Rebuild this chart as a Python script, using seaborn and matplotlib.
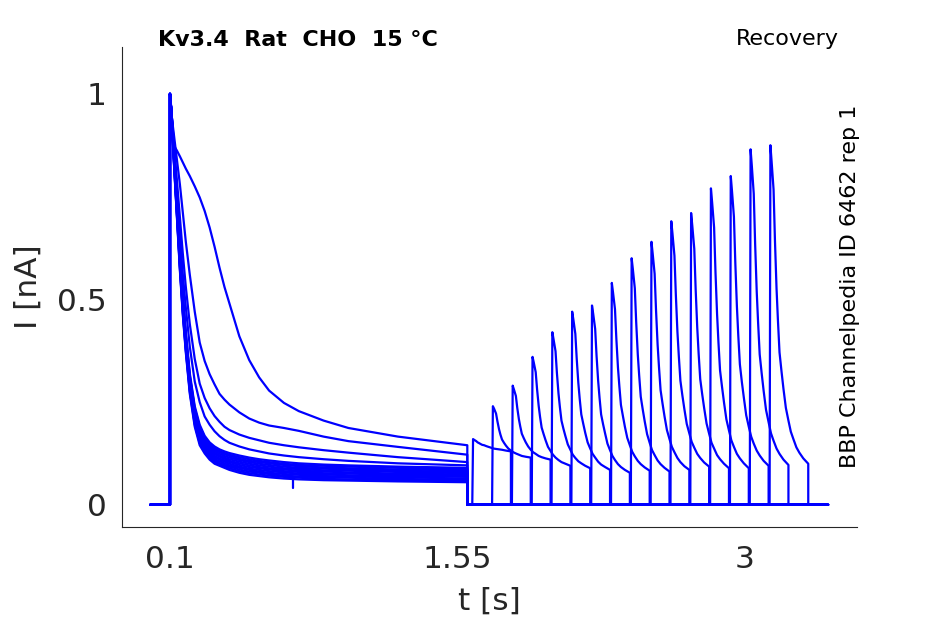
import numpy as np
import pandas as pd
import seaborn as sns
import matplotlib.pyplot as plt

# time grid of the conditioning pulse (s)
t_pulse1 = [0.1, 0.105, 0.11, 0.12, 0.135, 0.15, 0.165, 0.18, 0.2, 0.225, 0.25,
            0.275, 0.3, 0.325, 0.35, 0.375, 0.4, 0.45, 0.5, 0.55, 0.6, 0.675,
            0.75, 0.875, 1.0, 1.25, 1.6]

# current during the conditioning pulse, one row per sweep (nA)
i_pulse1 = [
    [1.0, 0.95, 0.9, 0.874, 0.862, 0.848, 0.833, 0.818, 0.80, 0.775, 0.748, 0.715, 0.675, 0.628,
     0.577, 0.53, 0.49, 0.41, 0.352, 0.31, 0.278, 0.248, 0.228, 0.205, 0.187, 0.166, 0.145],
    [1.0, 0.97, 0.94, 0.90, 0.84, 0.78, 0.71, 0.64, 0.56, 0.47, 0.395, 0.35, 0.318, 0.293,
     0.27, 0.256, 0.244, 0.225, 0.21, 0.2, 0.193, 0.187, 0.18, 0.166, 0.155, 0.141, 0.122],
    [1.0, 0.97, 0.94, 0.88, 0.79, 0.70, 0.61, 0.53, 0.44, 0.355, 0.295, 0.26, 0.235, 0.216,
     0.202, 0.19, 0.182, 0.171, 0.163, 0.157, 0.151, 0.145, 0.14, 0.133, 0.127, 0.116, 0.104],
    [1.0, 0.97, 0.94, 0.87, 0.76, 0.66, 0.56, 0.48, 0.385, 0.30, 0.25, 0.215, 0.195, 0.179,
     0.167, 0.158, 0.151, 0.142, 0.135, 0.13, 0.125, 0.12, 0.116, 0.111, 0.107, 0.101, 0.096],
    [1.0, 0.975, 0.94, 0.86, 0.74, 0.62, 0.51, 0.42, 0.32, 0.24, 0.195, 0.168, 0.152, 0.142,
     0.135, 0.13, 0.126, 0.12, 0.115, 0.111, 0.108, 0.104, 0.101, 0.098, 0.096, 0.093, 0.09],
    [1.0, 0.97, 0.938, 0.857, 0.736, 0.615, 0.505, 0.415, 0.315, 0.235, 0.190, 0.164, 0.148, 0.138,
     0.131, 0.126, 0.122, 0.116, 0.111, 0.107, 0.104, 0.100, 0.097, 0.095, 0.093, 0.090, 0.087],
    [1.0, 0.97, 0.936, 0.855, 0.733, 0.611, 0.501, 0.411, 0.311, 0.231, 0.186, 0.160, 0.144, 0.134,
     0.128, 0.123, 0.119, 0.112, 0.107, 0.104, 0.101, 0.097, 0.094, 0.091, 0.089, 0.086, 0.084],
    [1.0, 0.97, 0.935, 0.852, 0.729, 0.606, 0.496, 0.406, 0.306, 0.226, 0.181, 0.156, 0.141, 0.131,
     0.124, 0.119, 0.115, 0.109, 0.104, 0.100, 0.097, 0.093, 0.090, 0.088, 0.086, 0.083, 0.080],
    [1.0, 0.97, 0.933, 0.849, 0.725, 0.602, 0.492, 0.402, 0.302, 0.222, 0.177, 0.152, 0.137, 0.127,
     0.120, 0.115, 0.111, 0.105, 0.100, 0.096, 0.093, 0.089, 0.087, 0.084, 0.083, 0.080, 0.077],
    [1.0, 0.97, 0.931, 0.846, 0.722, 0.597, 0.487, 0.397, 0.297, 0.217, 0.172, 0.148, 0.133, 0.123,
     0.117, 0.112, 0.107, 0.101, 0.096, 0.092, 0.089, 0.086, 0.083, 0.081, 0.079, 0.076, 0.074],
    [1.0, 0.97, 0.929, 0.844, 0.718, 0.593, 0.483, 0.393, 0.293, 0.213, 0.168, 0.145, 0.129, 0.119,
     0.113, 0.108, 0.104, 0.097, 0.092, 0.089, 0.086, 0.082, 0.080, 0.077, 0.076, 0.073, 0.071],
    [1.0, 0.97, 0.927, 0.841, 0.715, 0.588, 0.478, 0.388, 0.288, 0.208, 0.163, 0.141, 0.125, 0.115,
     0.110, 0.105, 0.100, 0.093, 0.088, 0.085, 0.082, 0.079, 0.076, 0.074, 0.072, 0.070, 0.068],
    [1.0, 0.97, 0.925, 0.838, 0.711, 0.584, 0.474, 0.384, 0.284, 0.204, 0.159, 0.137, 0.121, 0.111,
     0.106, 0.101, 0.096, 0.090, 0.085, 0.081, 0.078, 0.075, 0.073, 0.070, 0.069, 0.067, 0.064],
    [1.0, 0.97, 0.924, 0.835, 0.707, 0.579, 0.469, 0.379, 0.279, 0.199, 0.154, 0.133, 0.118, 0.108,
     0.102, 0.097, 0.093, 0.086, 0.081, 0.078, 0.075, 0.071, 0.069, 0.067, 0.066, 0.063, 0.061],
    [1.0, 0.97, 0.922, 0.833, 0.704, 0.575, 0.465, 0.375, 0.275, 0.195, 0.150, 0.129, 0.114, 0.104,
     0.099, 0.094, 0.089, 0.082, 0.077, 0.074, 0.071, 0.068, 0.066, 0.063, 0.062, 0.060, 0.058],
    [1.0, 0.97, 0.92, 0.83, 0.70, 0.57, 0.46, 0.37, 0.27, 0.19, 0.145, 0.125, 0.11, 0.10,
     0.095, 0.09, 0.085, 0.078, 0.073, 0.07, 0.067, 0.064, 0.062, 0.06, 0.059, 0.057, 0.055],
]

# test pulse onsets (s) and time after onset (s)
t_test_start = [1.625, 1.725, 1.825, 1.925, 2.025, 2.125, 2.225, 2.325,
                2.425, 2.525, 2.625, 2.725, 2.825, 2.925, 3.025, 3.125]
dt_test = [0.0, 0.004, 0.01, 0.02, 0.027, 0.035, 0.042, 0.05, 0.06, 0.07,
           0.082, 0.095, 0.107, 0.12, 0.135, 0.15, 0.17, 0.195]

# current during the test pulse (nA)
i_test = [
    [0.0, .16, .158, .155, .152, .15, .148, .146, .145, .143, .141, .139, .137, .136, .135, .134, .132, .13],
    [0.0, .24, .234, .222, .203, .184, .171, .159, .151, .144, .137, .132, .128, .125, .122, .119, .117, .115],
    [0.0, .29, .281, .265, .236, .209, .191, .173, .162, .152, .142, .134, .128, .124, .119, .116, .113, .11],
    [0.0, .36, .347, .323, .281, .241, .214, .188, .172, .157, .141, .131, .122, .115, .109, .104, .10, .095],
    [0.0, .42, .403, .374, .321, .271, .238, .205, .185, .167, .147, .134, .122, .114, .106, .101, .095, .089],
    [0.0, .47, .451, .416, .355, .297, .258, .220, .197, .175, .152, .137, .124, .115, .105, .098, .092, .085],
    [0.0, .485, .465, .428, .363, .302, .261, .220, .196, .174, .149, .133, .119, .109, .099, .092, .085, .078],
    [0.0, .54, .517, .476, .403, .334, .289, .243, .216, .190, .163, .145, .129, .118, .107, .099, .091, .083],
    [0.0, .60, .574, .527, .444, .366, .315, .263, .232, .203, .172, .151, .133, .121, .108, .099, .090, .081],
    [0.0, .64, .612, .562, .474, .390, .335, .279, .246, .215, .182, .160, .141, .128, .114, .104, .094, .085],
    [0.0, .69, .66, .606, .511, .421, .362, .302, .266, .233, .197, .174, .153, .139, .124, .114, .103, .093],
    [0.0, .71, .679, .623, .524, .431, .368, .306, .269, .235, .198, .173, .151, .137, .121, .111, .100, .089],
    [0.0, .77, .736, .675, .566, .464, .395, .327, .287, .249, .208, .181, .157, .141, .124, .113, .101, .089],
    [0.0, .80, .765, .701, .589, .483, .412, .342, .299, .261, .218, .190, .166, .149, .132, .120, .107, .095],
    [0.0, .865, .827, .757, .635, .519, .443, .366, .320, .277, .231, .201, .174, .156, .137, .124, .110, .097],
    [0.0, .875, .836, .767, .643, .526, .449, .371, .325, .282, .236, .205, .178, .160, .140, .127, .113, .10],
]

t_record_end = 3.42
# small recording artifact in one sweep
t_artifact = [0.722, 0.722]
i_artifact = [0.066, 0.04]

rows = []
for k in range(len(i_pulse1)):
    t0 = t_test_start[k]
    ts = [0.0, t_pulse1[0]] + t_pulse1 + [t_pulse1[-1], t0]
    vs = [0.0, 0.0] + i_pulse1[k] + [0.0, 0.0]
    ts += [t0 + d for d in dt_test] + [t0 + dt_test[-1], t_record_end]
    vs += i_test[k] + [0.0, 0.0]
    rows.append(pd.DataFrame({'t': ts, 'I': vs, 'sweep': k}))
rows.append(pd.DataFrame({'t': t_artifact, 'I': i_artifact, 'sweep': 99}))
df = pd.concat(rows, ignore_index=True)

sns.set_style('white')
plt.rcParams['font.family'] = ['DejaVu Sans']

fig = plt.figure(figsize=(9.45, 6.24), dpi=100)
ax = fig.add_axes([0.1291, 0.1554, 0.7778, 0.7693])

sns.lineplot(data=df, x='t', y='I', units='sweep', estimator=None, sort=False,
             color='#0000ff', linewidth=1.6, legend=False, ax=ax)

ax.set_xlim(-0.142, 3.566)
ax.set_ylim(-0.054, 1.114)
ax.set_xticks([0.1, 1.55, 3])
ax.set_xticklabels(['0.1', '1.55', '3'])
ax.set_yticks([0, 0.5, 1])
ax.set_yticklabels(['0', '0.5', '1'])

for s in ['top', 'right']:
    ax.spines[s].set_visible(False)
for s in ['left', 'bottom']:
    ax.spines[s].set_color('#262626')
    ax.spines[s].set_linewidth(0.8)
ax.tick_params(direction='in', length=5.5, width=0.8, color='#262626',
               labelsize=22.5, labelcolor='#262626')
ax.tick_params(axis='x', pad=13)
ax.tick_params(axis='y', pad=11)

ax.set_xlabel('t [s]', fontsize=22.5, color='#262626', labelpad=9)
ax.set_ylabel('I [nA]', fontsize=22.5, color='#262626', labelpad=10)

ax.text(0.049, 1.015, 'Kv3.4  Rat  CHO  15 °C', transform=ax.transAxes,
        ha='left', va='center', fontsize=16, fontweight='bold', color='black')
ax.text(0.9755, 1.017, 'Recovery', transform=ax.transAxes,
        ha='right', va='center', fontsize=16, color='black')
ax.text(0.9905, 0.502, 'BBP Channelpedia ID 6462 rep 1', transform=ax.transAxes,
        ha='center', va='center', rotation=90, fontsize=16, color='black')

fig.savefig('out.png', dpi=100)
